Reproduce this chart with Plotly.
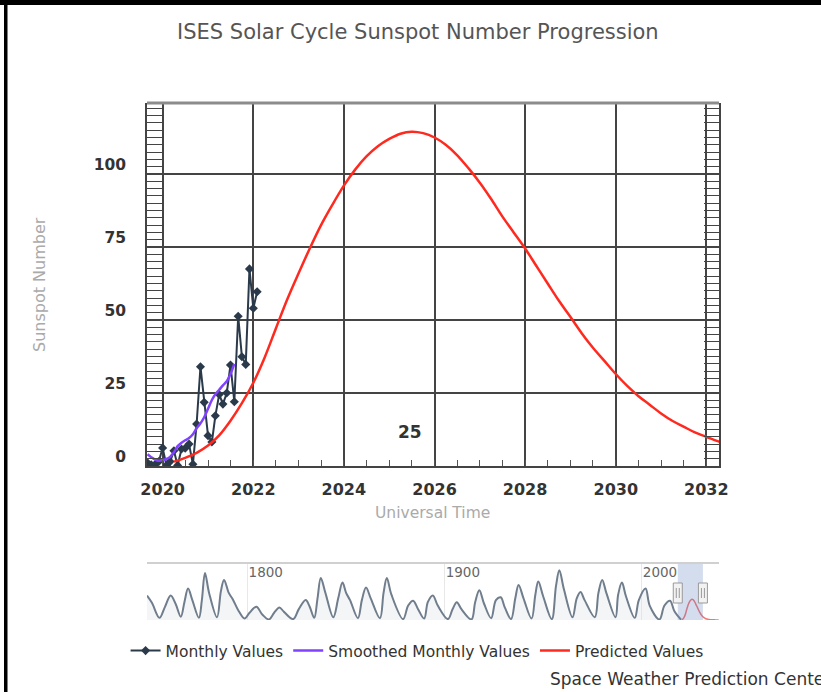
import plotly.graph_objects as go

W, H = 821, 692

# ---------------- data ----------------
monthly_dates = ["2019-09-01", "2019-10-01", "2019-11-01", "2019-12-01",
                 "2020-01-01", "2020-02-01", "2020-03-01", "2020-04-01", "2020-05-01", "2020-06-01",
                 "2020-07-01", "2020-08-01", "2020-09-01", "2020-10-01", "2020-11-01", "2020-12-01",
                 "2021-01-01", "2021-02-01", "2021-03-01", "2021-04-01", "2021-05-01", "2021-06-01",
                 "2021-07-01", "2021-08-01", "2021-09-01", "2021-10-01", "2021-11-01", "2021-12-01",
                 "2022-01-01", "2022-02-01"]
monthly_vals = [1.1, 0.4, 0.5, 1.5,
                6.2, 0.2, 1.5, 5.2, 0.2, 5.8,
                6.1, 7.5, 0.6, 14.4, 34.0, 21.8,
                10.4, 8.2, 17.2, 24.5, 21.2, 25.0,
                34.6, 22.0, 51.3, 37.4, 34.8, 67.5,
                54.0, 59.7]

smoothed_dates = monthly_dates[:24]
smoothed_vals = [4.0, 3.0, 2.2, 1.8,
                 2.0, 2.4, 3.1, 4.7, 6.8, 8.0,
                 8.8, 9.6, 10.9, 12.9, 14.6, 16.7,
                 19.6, 22.6, 24.6, 26.1, 27.6, 29.0,
                 31.5, 35.0]

pred_dates = ["2020-04-01", "2020-07-01", "2020-10-01", "2021-01-01", "2021-04-01", "2021-07-01",
              "2021-10-01", "2022-01-01", "2022-04-01", "2022-07-01", "2022-10-01", "2023-01-01",
              "2023-04-01", "2023-07-01", "2023-10-01", "2024-01-01", "2024-04-01", "2024-07-01",
              "2024-10-01", "2025-01-01", "2025-04-01", "2025-07-01", "2025-10-01", "2026-01-01",
              "2026-04-01", "2026-07-01", "2026-10-01", "2027-01-01", "2027-04-01", "2027-07-01",
              "2027-10-01", "2028-01-01", "2028-04-01", "2028-07-01", "2028-10-01", "2029-01-01",
              "2029-04-01", "2029-07-01", "2029-10-01", "2030-01-01", "2030-04-01", "2030-07-01",
              "2030-10-01", "2031-01-01", "2031-04-01", "2031-07-01", "2031-10-01", "2032-01-01",
              "2032-04-01", "2032-07-01", "2033-01-01", "2034-01-01", "2035-01-01", "2036-01-01",
              "2037-01-01", "2038-01-01", "2039-01-01"]
pred_vals = [1.5, 2.8, 4.5, 7.0, 10.5, 15.5,
             21.5, 28.5, 37.0, 47.0, 57.0, 66.0,
             74.5, 82.5, 89.5, 96.0, 101.5, 106.0,
             109.5, 112.0, 113.8, 114.5, 114.0, 112.5,
             110.0, 106.5, 102.0, 97.0, 91.5, 85.5,
             80.0, 74.5, 68.5, 62.5, 56.5, 51.0,
             45.5, 40.5, 36.0, 31.5, 27.5, 24.0,
             21.0, 18.0, 15.5, 13.5, 11.5, 10.0,
             8.5, 7.2, 5.2, 3.0, 1.8, 1.1,
             0.7, 0.4, 0.3]

# long-term history shown in the navigator (cycle extremes read from the strip)
hist_years = [1749.0, 1751.5, 1755.3, 1758.0, 1761.0, 1763.5, 1766.2, 1768.0, 1769.8, 1772.0,
              1775.3, 1776.8, 1778.4, 1780.5, 1784.5, 1786.5, 1788.1, 1790.5, 1792.5, 1795.5,
              1798.5, 1801.0, 1804.5, 1807.5, 1810.8, 1813.5, 1816.2, 1818.5, 1823.2, 1826.0,
              1829.5, 1831.5, 1833.8, 1835.5, 1837.2, 1839.5, 1843.5, 1846.0, 1848.2, 1850.0,
              1852.0, 1856.0, 1858.0, 1860.1, 1862.5, 1867.2, 1869.0, 1870.7, 1873.0, 1878.9,
              1881.5, 1884.0, 1886.5, 1889.6, 1891.5, 1894.0, 1896.5, 1901.7, 1904.0, 1906.2,
              1908.5, 1913.6, 1915.5, 1917.6, 1920.0, 1923.6, 1926.0, 1928.4, 1930.5, 1933.7,
              1935.8, 1937.5, 1940.0, 1944.1, 1946.0, 1947.5, 1950.0, 1954.3, 1956.5, 1958.2,
              1960.5, 1964.8, 1967.0, 1968.9, 1971.0, 1976.2, 1978.0, 1979.9, 1982.0, 1986.7,
              1988.0, 1989.9, 1992.0, 1996.4, 1998.5, 2001.9, 2004.0, 2008.9, 2011.5, 2014.3,
              2016.5, 2019.9]
hist_vals = [135, 95, 12, 70, 136, 90, 18, 100, 174, 110,
             12, 110, 260, 150, 15, 160, 222, 150, 115, 50,
             8, 40, 73, 30, 3, 40, 69, 45, 5, 60,
             111, 75, 12, 120, 232, 150, 15, 120, 207, 150,
             110, 10, 110, 180, 120, 10, 150, 232, 140, 5,
             80, 107, 60, 8, 100, 136, 80, 5, 60, 98,
             60, 3, 100, 165, 90, 10, 110, 126, 70, 5,
             120, 194, 120, 8, 140, 213, 130, 5, 190, 276,
             170, 15, 120, 155, 110, 15, 150, 222, 150, 15,
             140, 207, 130, 12, 110, 174, 80, 3, 80, 107,
             50, 2]

x_tick_years = ["2020", "2022", "2024", "2026", "2028", "2030", "2032"]
y_ticks = [0, 25, 50, 75, 100]
nav_tick_years = ["1800", "1900", "2000"]


def yr_to_date(y):
    yi = int(y)
    m = int(round((y - yi) * 12)) + 1
    if m > 12:
        yi, m = yi + 1, 1
    return f"{yi:04d}-{m:02d}-01"


hist_dates = [yr_to_date(y) for y in hist_years]

# ---------------- layout geometry (pixels -> paper) ----------------
def px(x):
    return x / W


def py(y):
    return 1 - y / H


plot_l, plot_r = 147, 719
plot_t, plot_b = 103, 466
nav_t, nav_b = 564, 620

DARK = "#2b3a4b"
PURPLE = "#8142ff"
RED = "#ff2a1f"
FONT = "DejaVu Sans"

fig = go.Figure()

fig.add_trace(go.Scatter(
    x=monthly_dates, y=monthly_vals, name="Monthly Values", mode="lines+markers",
    line=dict(color=DARK, width=2), marker=dict(color=DARK, size=7, symbol="diamond"),
    xaxis="x", yaxis="y"))
fig.add_trace(go.Scatter(
    x=smoothed_dates, y=smoothed_vals, name="Smoothed Monthly Values", mode="lines",
    line=dict(color=PURPLE, width=2.5, shape="spline"), xaxis="x", yaxis="y"))
fig.add_trace(go.Scatter(
    x=pred_dates, y=pred_vals, name="Predicted Values", mode="lines",
    line=dict(color=RED, width=2.5, shape="spline"), xaxis="x", yaxis="y"))

# navigator
fig.add_trace(go.Scatter(
    x=hist_dates, y=hist_vals, mode="lines", showlegend=False, hoverinfo="skip",
    line=dict(color="#6f7d8c", width=2, shape="spline", smoothing=1.0),
    fill="tozeroy", fillcolor="rgba(215,222,230,0.3)", xaxis="x2", yaxis="y2"))
fig.add_trace(go.Scatter(
    x=pred_dates, y=pred_vals, mode="lines", showlegend=False, hoverinfo="skip",
    line=dict(color="rgba(240,70,70,0.75)", width=1.5, shape="spline"),
    xaxis="x2", yaxis="y2"))

fig.update_layout(
    width=W, height=H, margin=dict(l=0, r=0, t=0, b=0, pad=0, autoexpand=False),
    paper_bgcolor="white", plot_bgcolor="white",
    font=dict(family=FONT, color="#333"),
    showlegend=True,
    legend=dict(orientation="h", x=0.508, xanchor="center", y=py(651), yanchor="middle",
                font=dict(size=15.5, color="#333", family=FONT), bgcolor="rgba(0,0,0,0)",
                itemwidth=30),
    xaxis=dict(
        type="date", domain=[px(plot_l), px(plot_r)], anchor="y", automargin=False,
        range=["2019-08-28", "2032-04-12"],
        tickvals=[f"{y}-01-01" for y in x_tick_years], ticktext=x_tick_years,
        showgrid=True, gridcolor="#444", gridwidth=1.6,
        showline=True, linecolor="#444", linewidth=2,
        ticks="", ticklabelstandoff=8,
        tickfont=dict(size=16, color="#333", family=FONT, weight="bold"),
        minor=dict(dtick="M6", tick0="2020-01-01", ticks="inside", ticklen=6,
                   tickcolor="#555", tickwidth=1, showgrid=False),
        zeroline=False, fixedrange=True),
    yaxis=dict(
        domain=[py(plot_b), py(plot_t)], anchor="x", automargin=False,
        range=[0, (plot_b - plot_t) / 2.92],
        tickvals=y_ticks, ticktext=[str(v) for v in y_ticks],
        showgrid=True, gridcolor="#444", gridwidth=1.6,
        showline=True, linecolor="#444", linewidth=1.5, mirror="allticks",
        ticks="inside", ticklen=15, tickcolor="#444", tickwidth=1.5,
        ticklabelshift=-9, ticklabelstandoff=16,
        tickfont=dict(size=15.5, color="#333", family=FONT, weight="bold"),
        minor=dict(dtick=2.5, ticks="inside", ticklen=15, tickcolor="#444",
                   tickwidth=1, showgrid=False),
        zeroline=False, fixedrange=True),
    xaxis2=dict(
        type="date", domain=[px(plot_l), px(plot_r)], anchor="y2", automargin=False,
        range=["1749-01-01", "2039-03-01"], side="top",
        tickvals=[f"{y}-01-01" for y in nav_tick_years], ticktext=nav_tick_years,
        ticklabelposition="inside right", ticks="",
        tickfont=dict(size=13.5, color="#666", family=FONT),
        showgrid=True, gridcolor="#e8e8e8", gridwidth=1,
        showline=True, linecolor="#d0d0d0", linewidth=2,
        zeroline=False, fixedrange=True),
    yaxis2=dict(
        domain=[py(nav_b), py(nav_t)], anchor="x2", automargin=False,
        range=[0, 310], showticklabels=False, showgrid=False, zeroline=False,
        showline=False, fixedrange=True),
)

shapes = [
    # black frame (top and left)
    dict(type="rect", xref="paper", yref="paper", x0=0, x1=1, y0=py(5), y1=1,
         fillcolor="black", line=dict(width=0)),
    dict(type="rect", xref="paper", yref="paper", x0=px(4), x1=px(7.5), y0=0, y1=1,
         fillcolor="black", line=dict(width=0)),
    # top border of plot
    dict(type="line", xref="paper", yref="paper", x0=px(plot_l), x1=px(plot_r),
         y0=py(plot_t), y1=py(plot_t), line=dict(color="#8c8c8c", width=3)),
    # navigator selection band
    dict(type="rect", xref="x2", yref="y2 domain", x0="2018-04-01", x1="2031-01-01",
         y0=0, y1=1, fillcolor="rgba(102,133,194,0.28)", line=dict(width=0), layer="above"),
]
for hx in ["2018-04-01", "2031-01-01"]:
    shapes.append(dict(type="rect", xref="x2", yref="paper", xsizemode="pixel", xanchor=hx,
                       x0=-4.5, x1=4.5, y0=py(603), y1=py(583),
                       fillcolor="#f2f2f2", line=dict(color="#999", width=1), layer="above"))
    shapes.append(dict(type="line", xref="x2", yref="paper", xsizemode="pixel", xanchor=hx,
                       x0=-1.5, x1=-1.5, y0=py(598), y1=py(588),
                       line=dict(color="#999", width=1), layer="above"))
    shapes.append(dict(type="line", xref="x2", yref="paper", xsizemode="pixel", xanchor=hx,
                       x0=1.5, x1=1.5, y0=py(598), y1=py(588),
                       line=dict(color="#999", width=1), layer="above"))
fig.update_layout(shapes=shapes)

annotations = [
    dict(text="ISES Solar Cycle Sunspot Number Progression", xref="paper", yref="paper",
         x=px(418), y=py(32), xanchor="center", yanchor="middle", showarrow=False,
         font=dict(size=21, color="#555", family=FONT)),
    dict(text="Sunspot Number", xref="paper", yref="paper", x=px(40), y=py(285),
         xanchor="center", yanchor="middle", textangle=-90, showarrow=False,
         font=dict(size=16, color="#aaa", family=FONT)),
    dict(text="Universal Time", xref="paper", yref="paper", x=px(432), y=py(513),
         xanchor="center", yanchor="middle", showarrow=False,
         font=dict(size=15.5, color="#aaa", family=FONT)),
    dict(text="25", xref="x", yref="y", x="2025-06-17", y=11.6, xanchor="center",
         yanchor="middle", showarrow=False,
         font=dict(size=17, color="#333", family=FONT, weight="bold")),
    dict(text="Space Weather Prediction Center", xref="paper", yref="paper", x=px(548),
         y=py(679), xanchor="left", yanchor="middle", showarrow=False,
         font=dict(size=17, color="#333", family=FONT)),
]
fig.update_layout(annotations=annotations)

fig.write_html(
    "out.html",
    config={"displayModeBar": False},
    post_script=("document.documentElement.style.overflow='hidden';"
                 "document.body.style.margin='0';document.body.style.overflow='hidden';"),
)
